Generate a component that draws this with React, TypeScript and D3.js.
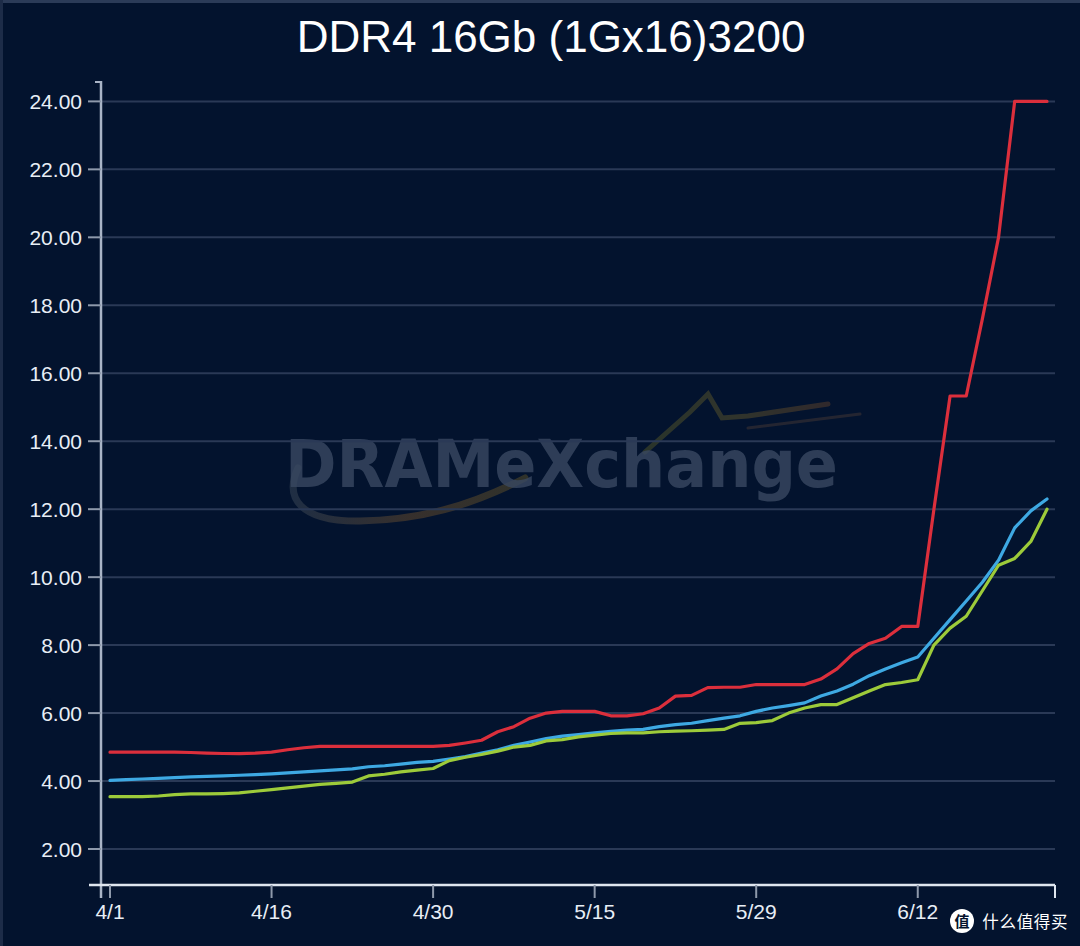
import React, { useEffect } from "react";
import * as d3 from "d3";

const dates = [
  "4/1","4/2","4/3","4/7","4/8","4/9","4/10","4/11","4/14","4/15",
  "4/16","4/17","4/18","4/21","4/22","4/23","4/24","4/25","4/28","4/29",
  "4/30","5/2","5/5","5/6","5/7","5/8","5/9","5/12","5/13","5/14",
  "5/15","5/16","5/19","5/20","5/21","5/22","5/23","5/26","5/27","5/28",
  "5/29","5/30","6/2","6/3","6/4","6/5","6/6","6/9","6/10","6/11",
  "6/12","6/13","6/16","6/17","6/18","6/19","6/20","6/23","6/24",
];

const tickLabels = ["4/1", "4/16", "4/30", "5/15", "5/29", "6/12"];
const yTicks = [2, 4, 6, 8, 10, 12, 14, 16, 18, 20, 22, 24];

const redSeries = [
  4.85, 4.85, 4.85, 4.85, 4.85, 4.84, 4.82, 4.81, 4.81, 4.82,
  4.85, 4.92, 4.98, 5.02, 5.02, 5.02, 5.02, 5.02, 5.02, 5.02,
  5.02, 5.05, 5.12, 5.2, 5.45, 5.6, 5.85, 6.0, 6.05, 6.05,
  6.05, 5.92, 5.92, 5.98, 6.15, 6.5, 6.52, 6.75, 6.76, 6.76,
  6.84, 6.84, 6.84, 6.84, 7.0, 7.3, 7.75, 8.05, 8.2, 8.55,
  8.55, 12.0, 15.33, 15.33, 17.6, 20.0, 24.0, 24.0, 24.0,
];

const blueSeries = [
  4.02, 4.04, 4.06, 4.08, 4.1, 4.12, 4.14, 4.15, 4.17, 4.19,
  4.21, 4.24, 4.27, 4.3, 4.33, 4.36, 4.42, 4.45, 4.5, 4.55,
  4.58, 4.65, 4.72, 4.82, 4.92, 5.05, 5.15, 5.25, 5.32, 5.37,
  5.42, 5.46, 5.5, 5.52, 5.6, 5.66, 5.7, 5.78, 5.85, 5.92,
  6.05, 6.15, 6.22, 6.3, 6.5, 6.65, 6.85, 7.1, 7.3, 7.48,
  7.65, 8.2, 8.75, 9.3, 9.85, 10.5, 11.45, 11.95, 12.3,
];

const greenSeries = [
  3.54, 3.54, 3.54, 3.56, 3.6, 3.62, 3.62, 3.63, 3.65, 3.7,
  3.75, 3.8, 3.85, 3.9, 3.93, 3.97, 4.15, 4.2, 4.27, 4.32,
  4.37, 4.6, 4.7, 4.78, 4.88, 5.0, 5.05, 5.18, 5.22, 5.3,
  5.35, 5.4, 5.42, 5.42, 5.45, 5.47, 5.48, 5.5, 5.52, 5.7,
  5.72, 5.78, 6.0, 6.15, 6.25, 6.25, 6.45, 6.65, 6.84, 6.9,
  6.98, 8.0, 8.5, 8.85, 9.6, 10.35, 10.55, 11.05, 12.0,
];

const logoChars = ["什", "么", "值", "得", "买"];

const W = 1080;
const H = 946;

export default function App() {
  useEffect(() => {
    document.body.style.margin = "0";
    document.body.style.background = "#03132e";
    document.body.style.overflow = "hidden";
  }, []);

  const x = d3.scaleLinear().domain([0, dates.length - 1]).range([110, 1047]);
  const y = d3.scaleLinear().domain([1, 24.6]).range([883, 81]);
  const axisLeft = 101;
  const axisBottom = 885;
  const plotRight = 1055;

  const line = d3
    .line<number>()
    .x((_, i) => x(i))
    .y((d) => y(d))
    .curve(d3.curveLinear);

  const series = [
    { name: "blue", values: blueSeries, color: "#3ea9e3" },
    { name: "green", values: greenSeries, color: "#9dcb3a" },
    { name: "red", values: redSeries, color: "#dc2f3c" },
  ];

  const labelFont = "'Liberation Sans', Arial, sans-serif";

  return (
    <svg width={W} height={H} style={{ display: "block", position: "absolute", left: 0, top: 0 }}>
      <defs>
        <linearGradient id="swoosh" x1="0" x2="1" y1="0" y2="0">
          <stop offset="0" stopColor="#4e5a66" />
          <stop offset="0.5" stopColor="#8a5e2a" />
          <stop offset="1" stopColor="#7a6426" />
        </linearGradient>
        <linearGradient id="mount" x1="0" x2="1" y1="0" y2="0">
          <stop offset="0" stopColor="#6a6a26" />
          <stop offset="0.5" stopColor="#7a6a2a" />
          <stop offset="1" stopColor="#7a4e2a" />
        </linearGradient>
      </defs>
      <rect x={0} y={0} width={W} height={H} fill="#03132e" />
      <rect x={0} y={0} width={W} height={3} fill="#2b3b58" />
      <rect x={0} y={0} width={3} height={H} fill="#1d2c48" />

      <text
        x={551}
        y={52}
        textAnchor="middle"
        fill="#ffffff"
        fontSize={44}
        fontFamily={labelFont}
      >
        DDR4 16Gb (1Gx16)3200
      </text>

      {/* watermark */}
      <g opacity={0.38}>
        <path
          d="M298,468 C284,498 300,522 360,521 C420,520 470,506 525,478"
          fill="none"
          stroke="url(#swoosh)"
          strokeWidth={7}
          strokeLinecap="round"
        />
        <path
          d="M645,452 L690,412 L708,394 L722,418 L748,416 L828,404"
          fill="none"
          stroke="url(#mount)"
          strokeWidth={5}
          strokeLinecap="round"
        />
        <path
          d="M748,428 L860,414"
          fill="none"
          stroke="#5a4438"
          strokeWidth={3}
          strokeLinecap="round"
        />
      </g>
      <text
        x={285}
        y={487}
        fill="#3a4862"
        fillOpacity={0.8}
        fontSize={66}
        fontWeight="bold"
        fontFamily="'DejaVu Sans', sans-serif"
        textLength={553}
        lengthAdjust="spacingAndGlyphs"
      >
        DRAMeXchange
      </text>

      {/* gridlines */}
      {yTicks.map((t) => (
        <line
          key={"g" + t}
          x1={axisLeft}
          x2={plotRight}
          y1={y(t)}
          y2={y(t)}
          stroke="#2a3956"
          strokeWidth={2}
        />
      ))}

      {/* y axis */}
      <line x1={axisLeft} x2={axisLeft} y1={81} y2={898} stroke="#a9b4c6" strokeWidth={2.5} />
      <line x1={95} x2={axisLeft} y1={82} y2={82} stroke="#a9b4c6" strokeWidth={2} />
      {yTicks.map((t) => (
        <g key={"yt" + t}>
          <line x1={88} x2={axisLeft} y1={y(t)} y2={y(t)} stroke="#8e99ab" strokeWidth={2} />
          <text
            x={82}
            y={y(t)}
            dy="0.36em"
            textAnchor="end"
            fill="#e8eef6"
            fontSize={21}
            fontFamily={labelFont}
          >
            {t.toFixed(2)}
          </text>
        </g>
      ))}

      {/* x axis */}
      <line x1={89} x2={plotRight} y1={axisBottom} y2={axisBottom} stroke="#dfe6ef" strokeWidth={2.5} />
      <line x1={plotRight} x2={plotRight} y1={axisBottom} y2={898} stroke="#dfe6ef" strokeWidth={2} />
      {tickLabels.map((lab) => {
        const i = dates.indexOf(lab);
        return (
          <g key={"xt" + lab}>
            <line x1={x(i)} x2={x(i)} y1={axisBottom} y2={898} stroke="#8e99ab" strokeWidth={2} />
            <text
              x={x(i)}
              y={919}
              textAnchor="middle"
              fill="#e8eef6"
              fontSize={21}
              fontFamily={labelFont}
            >
              {lab}
            </text>
          </g>
        );
      })}

      {/* series */}
      {series.map((s) => (
        <path
          key={s.name}
          d={line(s.values) || ""}
          fill="none"
          stroke={s.color}
          strokeWidth={3.2}
          strokeLinejoin="round"
          strokeLinecap="round"
        />
      ))}

      {/* logo */}
      <circle cx={962} cy={921} r={12} fill="#ffffff" />
      <text
        x={962}
        y={926.5}
        textAnchor="middle"
        fill="#03132e"
        fontSize={15}
        fontWeight="bold"
        fontFamily="'Noto Sans CJK SC', sans-serif"
      >
        值
      </text>
      {logoChars.map((c, k) => (
        <text
          key={"lc" + k}
          x={990.5 + k * 17.2}
          y={928}
          textAnchor="middle"
          fill="#ffffff"
          fontSize={16.5}
          fontFamily="'Noto Sans CJK SC', sans-serif"
        >
          {c}
        </text>
      ))}
    </svg>
  );
}
